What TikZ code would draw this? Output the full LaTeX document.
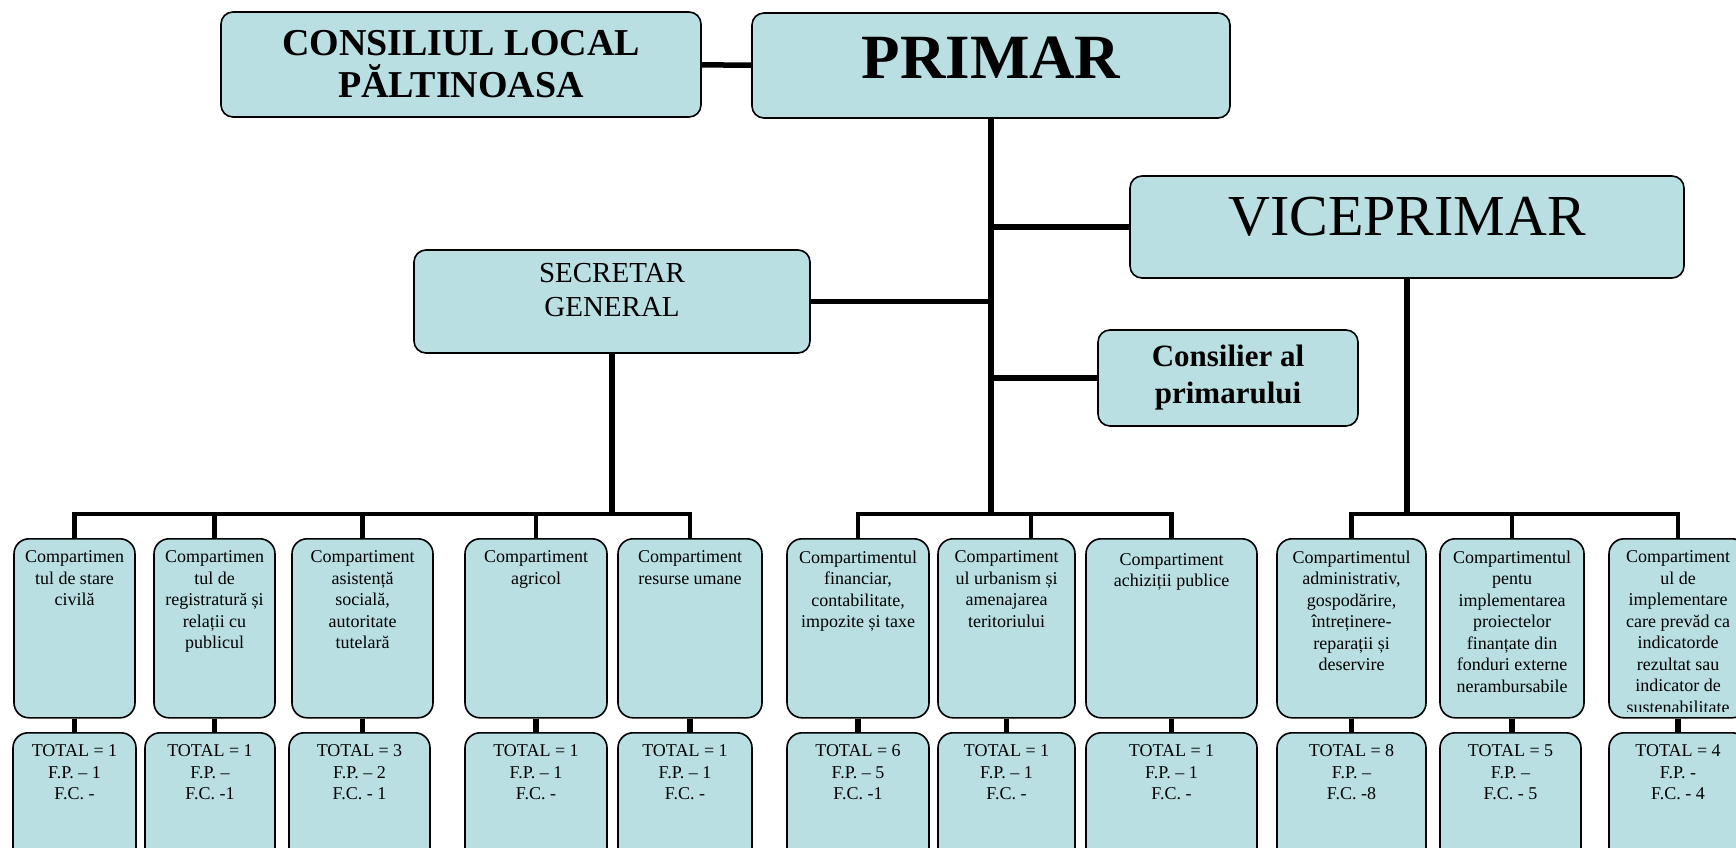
\documentclass[tikz,border=0pt]{standalone}
\usepackage{fontspec}
\setmainfont{Liberation Serif}
\usepackage{tikz}
\definecolor{bx}{HTML}{B9DFE3}
\tikzset{
  box/.style={draw,fill=bx,line width=1.6pt,rounded corners=12pt,inner sep=0pt},
  dept/.style={box,rounded corners=15pt,anchor=north,minimum height=179},
  tot/.style={box,rounded corners=15pt,anchor=north,minimum height=140},
  deptxt/.style={anchor=north,inner sep=0pt,align=center,font=\fontsize{18}{21.5}\selectfont},
  lnk/.style={line width=5.5pt},
  drop/.style={line width=4.5pt}
}
\begin{document}
\begin{tikzpicture}[x=1pt,y=-1pt]
\useasboundingbox (0,0) rectangle (1736,847);

\node[box,minimum width=480,minimum height=105,align=center,font=\fontsize{38}{42}\selectfont\bfseries] (consiliu) at (461,64.5) {CONSILIUL LOCAL\\PĂLTINOASA};
\node[box,minimum width=478,minimum height=105] (primar) at (991,65.5) {};
\node[font=\fontsize{63}{70}\selectfont\bfseries,inner sep=0pt] (primartxt) at ([yshift=7.5pt]primar.center) {PRIMAR};
\node[box,minimum width=554,minimum height=102] (vice) at (1407,227) {};
\node[font=\fontsize{58}{64}\selectfont,inner sep=0pt] (vicetxt) at ([yshift=10.5pt]vice.center) {VICEPRIMAR};
\node[box,minimum width=396,minimum height=103] (secretar) at (612,301.5) {};
\node[align=center,font=\fontsize{29}{34}\selectfont,inner sep=0pt] (secretartxt) at ([yshift=11pt]secretar.center) {SECRETAR\\GENERAL};
\node[box,minimum width=260,minimum height=96,align=center,font=\fontsize{31}{37}\selectfont\bfseries] (consilier) at (1228,378) {Consilier al\\primarului};

\coordinate (sbus) at (612,514);
\coordinate (pbus) at (991,514);
\coordinate (vbus) at (1407,514);

\draw[lnk] (consiliu) -- (primar);
\draw[lnk] (primar) -- (pbus);
\draw[lnk] (vice) -- (vice -| pbus);
\draw[lnk] (secretar) -- (secretar -| pbus);
\draw[lnk] (consilier) -- (consilier -| pbus);
\draw[lnk] (secretar) -- (sbus);
\draw[lnk] (vice) -- (vbus);

\node[dept,minimum width=121] (c1) at (74.5,538) {};
\node[dept,minimum width=121] (c2) at (214.5,538) {};
\node[dept,minimum width=141] (c3) at (362.5,538) {};
\node[dept,minimum width=142] (c4) at (536,538) {};
\node[dept,minimum width=144] (c5) at (690,538) {};
\node[dept,minimum width=142] (c6) at (858,538) {};
\node[dept,minimum width=137] (c7) at (1006.5,538) {};
\node[dept,minimum width=171] (c8) at (1171.5,538) {};
\node[dept,minimum width=149] (c9) at (1351.5,538) {};
\node[dept,minimum width=144] (c10) at (1512,538) {};
\node[dept,minimum width=138] (c11) at (1678,538) {};

\node[deptxt] (c1txt) at ([yshift=-12.5pt]c1.north) {Compartimen\\tul de stare\\civilă};
\node[deptxt] (c2txt) at ([yshift=-12.5pt]c2.north) {Compartimen\\tul de\\registratură și\\relații cu\\publicul};
\node[deptxt] (c3txt) at ([yshift=-12.5pt]c3.north) {Compartiment\\asistență\\socială,\\autoritate\\tutelară};
\node[deptxt] (c4txt) at ([yshift=-12.5pt]c4.north) {Compartiment\\agricol};
\node[deptxt] (c5txt) at ([yshift=-12.5pt]c5.north) {Compartiment\\resurse umane};
\node[deptxt] (c6txt) at ([yshift=-12.5pt]c6.north) {Compartimentul\\financiar,\\contabilitate,\\impozite și taxe};
\node[deptxt] (c7txt) at ([yshift=-12.5pt]c7.north) {Compartiment\\ul urbanism și\\amenajarea\\teritoriului};
\node[deptxt] (c8txt) at ([yshift=-15pt]c8.north) {Compartiment\\achiziții publice};
\node[deptxt] (c9txt) at ([yshift=-12.5pt]c9.north) {Compartimentul\\administrativ,\\gospodărire,\\întreținere-\\reparații și\\deservire};
\node[deptxt] (c10txt) at ([yshift=-12.5pt]c10.north) {Compartimentul\\pentu\\implementarea\\proiectelor\\finanțate din\\fonduri externe\\nerambursabile};
\begin{scope}
\clip ([shift={(1,-7)}]c11.south west) rectangle ([shift={(-1,1)}]c11.north east);
\node[deptxt] (c11txt) at ([yshift=-12.5pt]c11.north) {Compartiment\\ul de\\implementare\\care prevăd ca\\indicatorde\\rezultat sau\\indicator de\\sustenabilitate};
\end{scope}

\node[tot,minimum width=123] (t1) at (74.5,732) {};
\node[tot,minimum width=130] (t2) at (210,732) {};
\node[tot,minimum width=141] (t3) at (359.5,732) {};
\node[tot,minimum width=142] (t4) at (536,732) {};
\node[tot,minimum width=134] (t5) at (685,732) {};
\node[tot,minimum width=142] (t6) at (858,732) {};
\node[tot,minimum width=137] (t7) at (1006.5,732) {};
\node[tot,minimum width=171] (t8) at (1171.5,732) {};
\node[tot,minimum width=149] (t9) at (1351.5,732) {};
\node[tot,minimum width=141] (t10) at (1510.5,732) {};
\node[tot,minimum width=138] (t11) at (1678,732) {};

\node[deptxt] (t1txt) at ([yshift=-12.5pt]t1.north) {TOTAL = 1\\F.P. – 1\\F.C. -};
\node[deptxt] (t2txt) at ([yshift=-12.5pt]t2.north) {TOTAL = 1\\F.P. –\\F.C. -1};
\node[deptxt] (t3txt) at ([yshift=-12.5pt]t3.north) {TOTAL = 3\\F.P. – 2\\F.C. - 1};
\node[deptxt] (t4txt) at ([yshift=-12.5pt]t4.north) {TOTAL = 1\\F.P. – 1\\F.C. -};
\node[deptxt] (t5txt) at ([yshift=-12.5pt]t5.north) {TOTAL = 1\\F.P. – 1\\F.C. -};
\node[deptxt] (t6txt) at ([yshift=-12.5pt]t6.north) {TOTAL = 6\\F.P. – 5\\F.C. -1};
\node[deptxt] (t7txt) at ([yshift=-12.5pt]t7.north) {TOTAL = 1\\F.P. – 1\\F.C. -};
\node[deptxt] (t8txt) at ([yshift=-12.5pt]t8.north) {TOTAL = 1\\F.P. – 1\\F.C. -};
\node[deptxt] (t9txt) at ([yshift=-12.5pt]t9.north) {TOTAL = 8\\F.P. –\\F.C. -8};
\node[deptxt] (t10txt) at ([yshift=-12.5pt]t10.north) {TOTAL = 5\\F.P. –\\F.C. - 5};
\node[deptxt] (t11txt) at ([yshift=-12.5pt]t11.north) {TOTAL = 4\\F.P. -\\F.C. - 4};

\draw[drop] (c1.north) |- (sbus) -| (c5.north);
\foreach \n in {2,3,4}
  \draw[drop] (c\n.north) -- (c\n.north |- sbus);
\draw[drop] (c6.north) |- (pbus) -| (c8.north);
\draw[drop] ([xshift=24.5pt]c7.north) -- ([xshift=24.5pt]c7.north |- pbus);
\draw[drop] (c9.north) |- (vbus) -| (c11.north);
\draw[drop] (c10.north) -- (c10.north |- vbus);
\foreach \n in {1,...,11}
  \draw[lnk] (c\n.south) -- (c\n.south |- t\n.north);
\end{tikzpicture}
\end{document}
